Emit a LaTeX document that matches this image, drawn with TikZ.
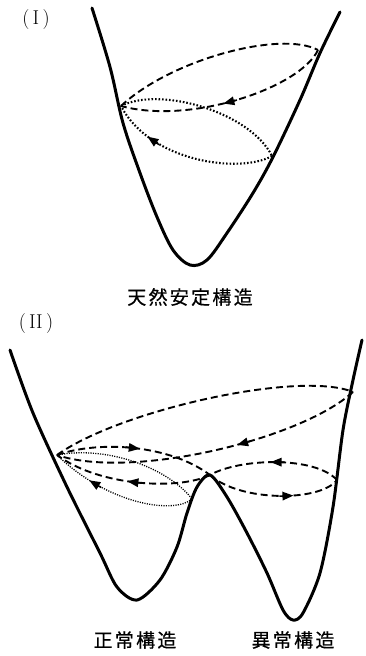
\documentclass[tikz,border=0pt]{standalone}
\usepackage{fontspec}
\newfontfamily\jp[LetterSpace=12,FakeBold=0.6]{Noto Sans CJK JP}
\usetikzlibrary{arrows.meta,decorations.markings}
\tikzset{
  well/.style={line width=3pt, line join=round, line cap=round},
  dsh/.style={line width=1.9pt, dash pattern=on 7pt off 4pt},
  dotl/.style={line width=2.1pt, dash pattern=on 1.6pt off 1.9pt},
  fdot/.style={line width=1.3pt, dash pattern=on 1.1pt off 1.3pt},
  arr/.style={postaction={decorate},decoration={markings,mark=at position #1 with {\draw[solid,line width=1.5pt,-{Triangle[length=11pt,width=8.5pt]}] (-10pt,0) -- (4pt,0);}}},
  lab/.style={font=\jp\fontsize{19}{19}\selectfont, inner sep=0pt},
  num/.style={font=\fontsize{20}{20}\selectfont, inner sep=0pt}
}
\begin{document}
\begin{tikzpicture}[x=1pt,y=-1pt]
\useasboundingbox (0,0) rectangle (365,656);
% ---------- Panel I ----------
\node[num] (n1) at (36,20) {(\,I\,)};
\draw[well] plot[smooth,tension=0.55] coordinates {(92,8) (110,67) (123,123) (140,173) (157,217) (173,250) (190,265) (207,260) (227,233) (253,193) (273,157) (300,100) (320,53) (340,12)};
\coordinate (A1) at (121,106);
\coordinate (B1) at (318,50);
\coordinate (C1) at (272,156);
\draw[dsh] (A1) .. controls (170,60) and (280,30) .. (B1);
\draw[dsh,arr=0.5] (B1) .. controls (300,88) and (190,125) .. (A1);
\draw[dotl] (A1) .. controls (160,86) and (250,112) .. (C1);
\draw[dotl,arr=0.74] (C1) .. controls (240,174) and (150,162) .. (A1);
\node[lab] (t1) at (190,297) {天然安定構造};
% ---------- Panel II ----------
\node[num] (n2) at (36,324) {(\,II\,)};
\draw[well] plot[smooth,tension=0.5] coordinates {(10,350) (33,413) (67,487) (100,553) (117,587) (137,600) (160,580) (177,547) (187,513) (197,487) (210,475) (227,497) (247,533) (267,573) (283,610) (293,620) (303,613) (320,573) (333,507) (343,430) (353,380) (362,340)};
\coordinate (L) at (57,455);
\coordinate (P) at (210,475);
\coordinate (R) at (353,392);
\coordinate (Q) at (337,480);
\coordinate (D) at (192,499);
% big dashed orbit
\draw[dsh] (L) .. controls (120,410) and (300,370) .. (R);
\draw[dsh,arr=0.4] (R) .. controls (300,440) and (130,480) .. (L);
% left well dashed orbit
\draw[dsh,arr=0.5] (L) .. controls (100,440) and (170,445) .. (P);
\draw[dsh,arr=0.5] (P) .. controls (180,490) and (100,487) .. (L);
% right well dashed orbit
\draw[dsh,arr=0.5] (Q) .. controls (315,456) and (240,458) .. (P);
\draw[dsh,arr=0.62] (P) .. controls (240,502) and (320,502) .. (Q);
% dotted orbit
\draw[fdot] (L) .. controls (110,445) and (170,470) .. (D);
\draw[fdot,arr=0.7] (D) .. controls (175,514) and (110,506) .. (L);
\node[lab] (t2) at (135,640) {正常構造};
\node[lab] (t3) at (293,640) {異常構造};
\end{tikzpicture}
\end{document}
